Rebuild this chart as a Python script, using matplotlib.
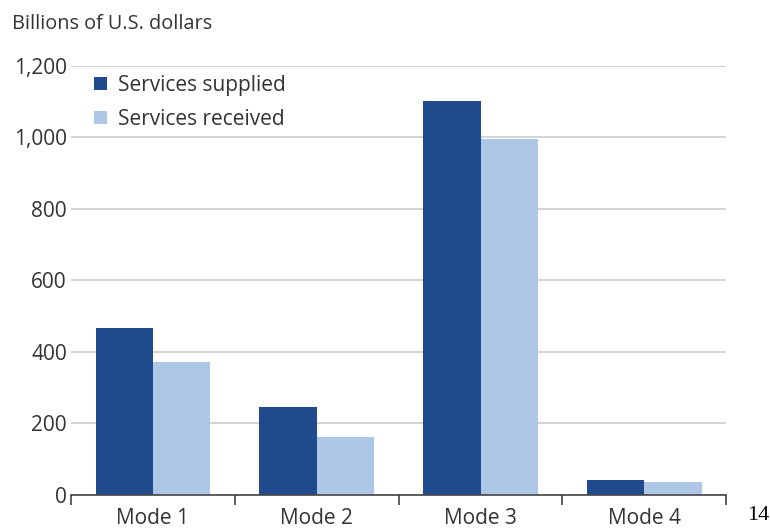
import numpy as np
import matplotlib.pyplot as plt
from matplotlib.ticker import FuncFormatter, FixedLocator

# Data
modes = ['Mode 1', 'Mode 2', 'Mode 3', 'Mode 4']
supplied = [466, 246, 1102, 43]
received = [372, 163, 995, 35]
yticks = [0, 200, 400, 600, 800, 1000, 1200]

dark_blue = '#1f4a8d'
light_blue = '#afc7e6'
text_col = '#333333'

plt.rcParams['font.family'] = ['Open Sans', 'DejaVu Sans']

fig = plt.figure(figsize=(7.7, 5.3), dpi=100)
ax = fig.add_axes([0.0922, 0.066, 0.851, 0.81])

x = np.arange(len(modes))
w = 0.35
ax.bar(x - w / 2, supplied, w, color=dark_blue, label='Services supplied', zorder=3)
ax.bar(x + w / 2, received, w, color=light_blue, label='Services received', zorder=3)

ax.set_xlim(-0.5, len(modes) - 0.5)
ax.set_ylim(0, 1200)
ax.set_yticks(yticks)
ax.yaxis.set_major_formatter(FuncFormatter(lambda v, p: f'{int(v):,}'))
ax.grid(axis='y', color='#cccccc', linewidth=1.2, zorder=0)

ax.set_xticks(x)
ax.set_xticklabels(modes)
ax.xaxis.set_minor_locator(FixedLocator(np.arange(-0.5, len(modes), 1.0)))
ax.tick_params(axis='x', which='major', length=0, pad=9, labelsize=15, colors=text_col)
ax.tick_params(axis='x', which='minor', length=7, width=1.2, color='#444444', direction='out')
ax.tick_params(axis='y', length=0, pad=3, labelsize=15, colors=text_col)

for s in ['top', 'right', 'left']:
    ax.spines[s].set_visible(False)
ax.spines['bottom'].set_color('#444444')
ax.spines['bottom'].set_linewidth(1.2)
ax.spines['bottom'].set_zorder(4)

leg = ax.legend(loc='upper left', bbox_to_anchor=(0.01, 1.017), frameon=False,
                handlelength=0.6, handleheight=0.6, handletextpad=0.55,
                labelspacing=0.6, fontsize=15, labelcolor=text_col,
                borderpad=0.3)

fig.text(12 / 770, 1 - 24 / 530, 'Billions of U.S. dollars', fontsize=14.3,
         color=text_col, va='center', ha='left')
fig.text(747 / 770, 1 - 516 / 530, '14', fontsize=16, family='Liberation Serif',
         color='black', va='center', ha='left')

fig.savefig('out.png', dpi=100)
